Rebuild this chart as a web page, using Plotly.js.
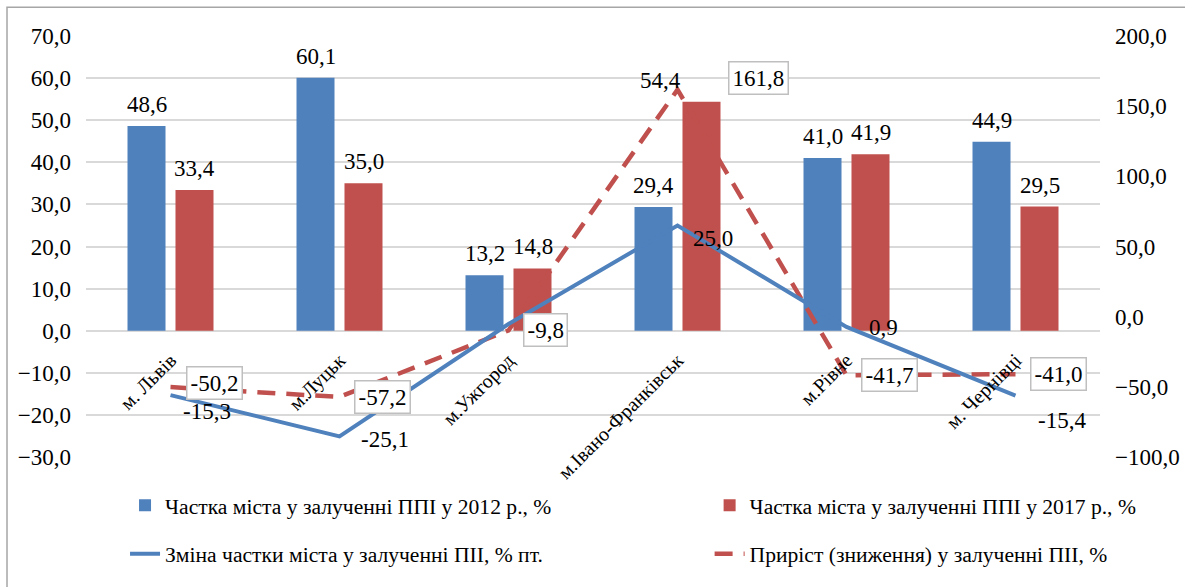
<!DOCTYPE html>
<html>
<head>
<meta charset="utf-8">
<script src="https://cdn.plot.ly/plotly-3.0.1.min.js"></script>
<style>html,body{margin:0;padding:0;background:#fff;}#chart{width:1185px;height:587px;}</style>
</head>
<body>
<div id="chart"></div>
<script>
// ---- data ----
var cities = ["м. Львів", "м.Луцьк", "м.Ужгород", "м.Івано-Франківськ", "м.Рівне", "м. Чернівці"];
var share2012 = [48.6, 60.1, 13.2, 29.4, 41.0, 44.9];
var share2017 = [33.4, 35.0, 14.8, 54.4, 41.9, 29.5];
var shareChange = [-15.3, -25.1, 1.6, 25.0, 0.9, -15.4];
var growthPct = [-50.2, -57.2, -9.8, 161.8, -41.7, -41.0];
var changeLabelShown = [true, true, false, true, true, true];

var leftTicks = [-30, -20, -10, 0, 10, 20, 30, 40, 50, 60, 70];
var rightTicks = [-100, -50, 0, 50, 100, 150, 200];

var nameS2012 = "Частка міста у залученні ППІ у 2012 р., %";
var nameS2017 = "Частка міста у залученні ППІ у 2017 р., %";
var nameChange = "Зміна частки міста у залученні ПІІ, % пт.";
var nameGrowth = "Приріст (зниження) у залученні ПІІ, %";

// ---- styles ----
var BLUE = "#4F81BD", RED = "#C0504D";
function fmt(v) { return v.toFixed(1).replace(".", ","); }
function f(size) { return {family: "Liberation Serif", size: size, color: "#000"}; }
var changeShift = [[10, -16], [19, -3], [0, 0], [13, -13], [20, -1], [20, -25]];
var growthShift = [[15, 4], [14, 0], [14, 0], [50, 12], [14, 0], [14, 0]];
var bar2012Shift = [-24, -24, -24, -24, -24, -24];
var bar2017Shift = [24, 24, 24, -17, 24, 24];

var traces = [
  {type: "bar", x: cities, y: share2012, name: nameS2012, marker: {color: BLUE},
   legend: "legend", legendrank: 1},
  {type: "bar", x: cities, y: share2017, name: nameS2017, marker: {color: RED},
   legend: "legend2", legendrank: 2},
  {type: "scatter", mode: "lines", x: cities, y: growthPct, yaxis: "y2", name: nameGrowth,
   line: {color: RED, width: 4.5, dash: "18px,11px"}, legend: "legend4", legendrank: 4},
  {type: "scatter", mode: "lines", x: cities, y: shareChange, yaxis: "y3", name: nameChange,
   line: {color: BLUE, width: 4}, legend: "legend3", legendrank: 3}
];

var annotations = [];
share2012.forEach(function (v, i) {
  annotations.push({x: cities[i], y: v, xref: "x", yref: "y", text: fmt(v), showarrow: false,
    xanchor: "center", yanchor: "bottom", xshift: bar2012Shift[i], yshift: 7, font: f(23)});
});
share2017.forEach(function (v, i) {
  annotations.push({x: cities[i], y: v, xref: "x", yref: "y", text: fmt(v), showarrow: false,
    xanchor: "center", yanchor: "bottom", xshift: bar2017Shift[i], yshift: 7, font: f(23)});
});
shareChange.forEach(function (v, i) {
  if (!changeLabelShown[i]) return;
  annotations.push({x: cities[i], y: v, xref: "x", yref: "y3", text: fmt(v), showarrow: false,
    xanchor: "left", yanchor: "middle", xshift: changeShift[i][0], yshift: changeShift[i][1],
    font: f(23)});
});
growthPct.forEach(function (v, i) {
  annotations.push({x: cities[i], y: v, xref: "x", yref: "y2", text: fmt(v), showarrow: false,
    xanchor: "left", yanchor: "middle", xshift: growthShift[i][0], yshift: growthShift[i][1],
    bgcolor: "#fff", bordercolor: "#BFBFBF", borderwidth: 1.5, borderpad: 3,
    font: f(23)});
});

var layout = {
  width: 1185, height: 587,
  font: f(20),
  margin: {l: 86, r: 85, t: 36, b: 127},
  paper_bgcolor: "#fff", plot_bgcolor: "#fff",
  separators: ",.",
  barmode: "group", bargap: 0.432, bargroupgap: 0.208,
  xaxis: {type: "category", anchor: "free", position: 0.3, tickangle: -45, ticks: "",
    showline: false, showgrid: false, zeroline: false, ticklabelstandoff: 13,
    tickfont: f(20)},
  yaxis: {range: [-30, 70], tickvals: leftTicks, tickformat: ".1f", showgrid: true,
    gridcolor: "#D9D9D9", gridwidth: 1.5, zeroline: false, showline: false, ticks: "",
    ticklabelstandoff: 14, tickfont: f(23)},
  yaxis2: {range: [-100, 200], tickvals: rightTicks, tickformat: ".1f", overlaying: "y", side: "right",
    showgrid: false, zeroline: false, showline: false, ticks: "", ticklabelstandoff: 14,
    tickfont: f(23)},
  yaxis3: {range: [-30, 70], overlaying: "y", visible: false},
  legend: {x: 0.0385, y: -0.1156, xanchor: "left", yanchor: "middle", font: f(21.6), bgcolor: "rgba(0,0,0,0)"},
  legend2: {x: 0.615, y: -0.1156, xanchor: "left", yanchor: "middle", font: f(21.6), bgcolor: "rgba(0,0,0,0)"},
  legend3: {x: 0.0385, y: -0.231, xanchor: "left", yanchor: "middle", font: f(21.6), bgcolor: "rgba(0,0,0,0)"},
  legend4: {x: 0.615, y: -0.231, xanchor: "left", yanchor: "middle", font: f(21.6), bgcolor: "rgba(0,0,0,0)"},
  annotations: annotations,
  shapes: [{type: "rect", xref: "paper", yref: "paper", x0: -0.0779, x1: 1.3, y0: -0.6, y1: 1.0684,
    line: {color: "#A6A6A6", width: 1.5}, fillcolor: "rgba(0,0,0,0)", layer: "below"}],
  showlegend: true
};

Plotly.newPlot("chart", traces, layout, {displayModeBar: false});
</script>
</body>
</html>
